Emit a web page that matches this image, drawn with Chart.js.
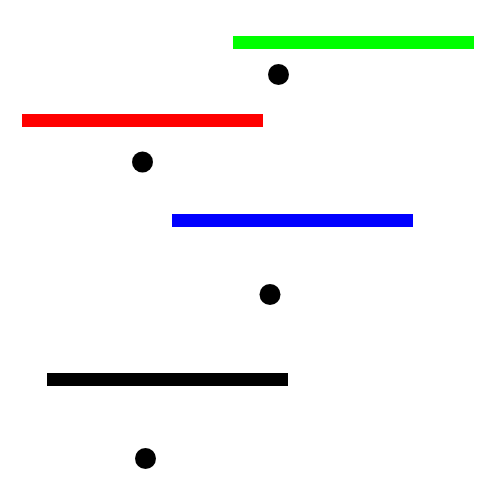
<!DOCTYPE html>
<html>
<head>
<meta charset="utf-8">
<script src="https://cdn.jsdelivr.net/npm/chart.js@4/dist/chart.umd.min.js"></script>
<style>
  html, body { margin: 0; padding: 0; background: #fff; }
  #wrap { width: 500px; height: 500px; }
</style>
</head>
<body>
<div id="wrap"><canvas id="myChart"></canvas></div>
<script>
// segments: start x, end x, level
const segStart = [233, 22, 172, 47];
const segEnd = [474, 263, 413, 288];
const segY = [42.5, 120.5, 220.5, 379.5];
const segColors = ['#00ff00', '#ff0000', '#0000ff', '#000000'];

// dots
const dotX = [278.5, 142.5, 270, 145.5];
const dotY = [74.5, 162, 294.5, 458.5];

const datasets = segStart.map(function (s, i) {
  return {
    type: 'line',
    data: [{ x: s, y: segY[i] }, { x: segEnd[i], y: segY[i] }],
    borderColor: segColors[i],
    borderWidth: 13,
    borderCapStyle: 'butt',
    pointRadius: 0,
    fill: false
  };
});

datasets.push({
  type: 'scatter',
  data: dotX.map(function (x, i) { return { x: x, y: dotY[i] }; }),
  backgroundColor: '#000',
  borderWidth: 0,
  pointRadius: 10.5
});

new Chart(document.getElementById('myChart').getContext('2d'), {
  type: 'scatter',
  data: { datasets: datasets },
  options: {
    responsive: true,
    maintainAspectRatio: false,
    animation: false,
    layout: { padding: 0, autoPadding: false },
    plugins: { legend: { display: false }, tooltip: { enabled: false } },
    scales: {
      x: { type: 'linear', min: 0, max: 500, display: false },
      y: { type: 'linear', min: 0, max: 500, reverse: true, display: false }
    }
  }
});
</script>
</body>
</html>
